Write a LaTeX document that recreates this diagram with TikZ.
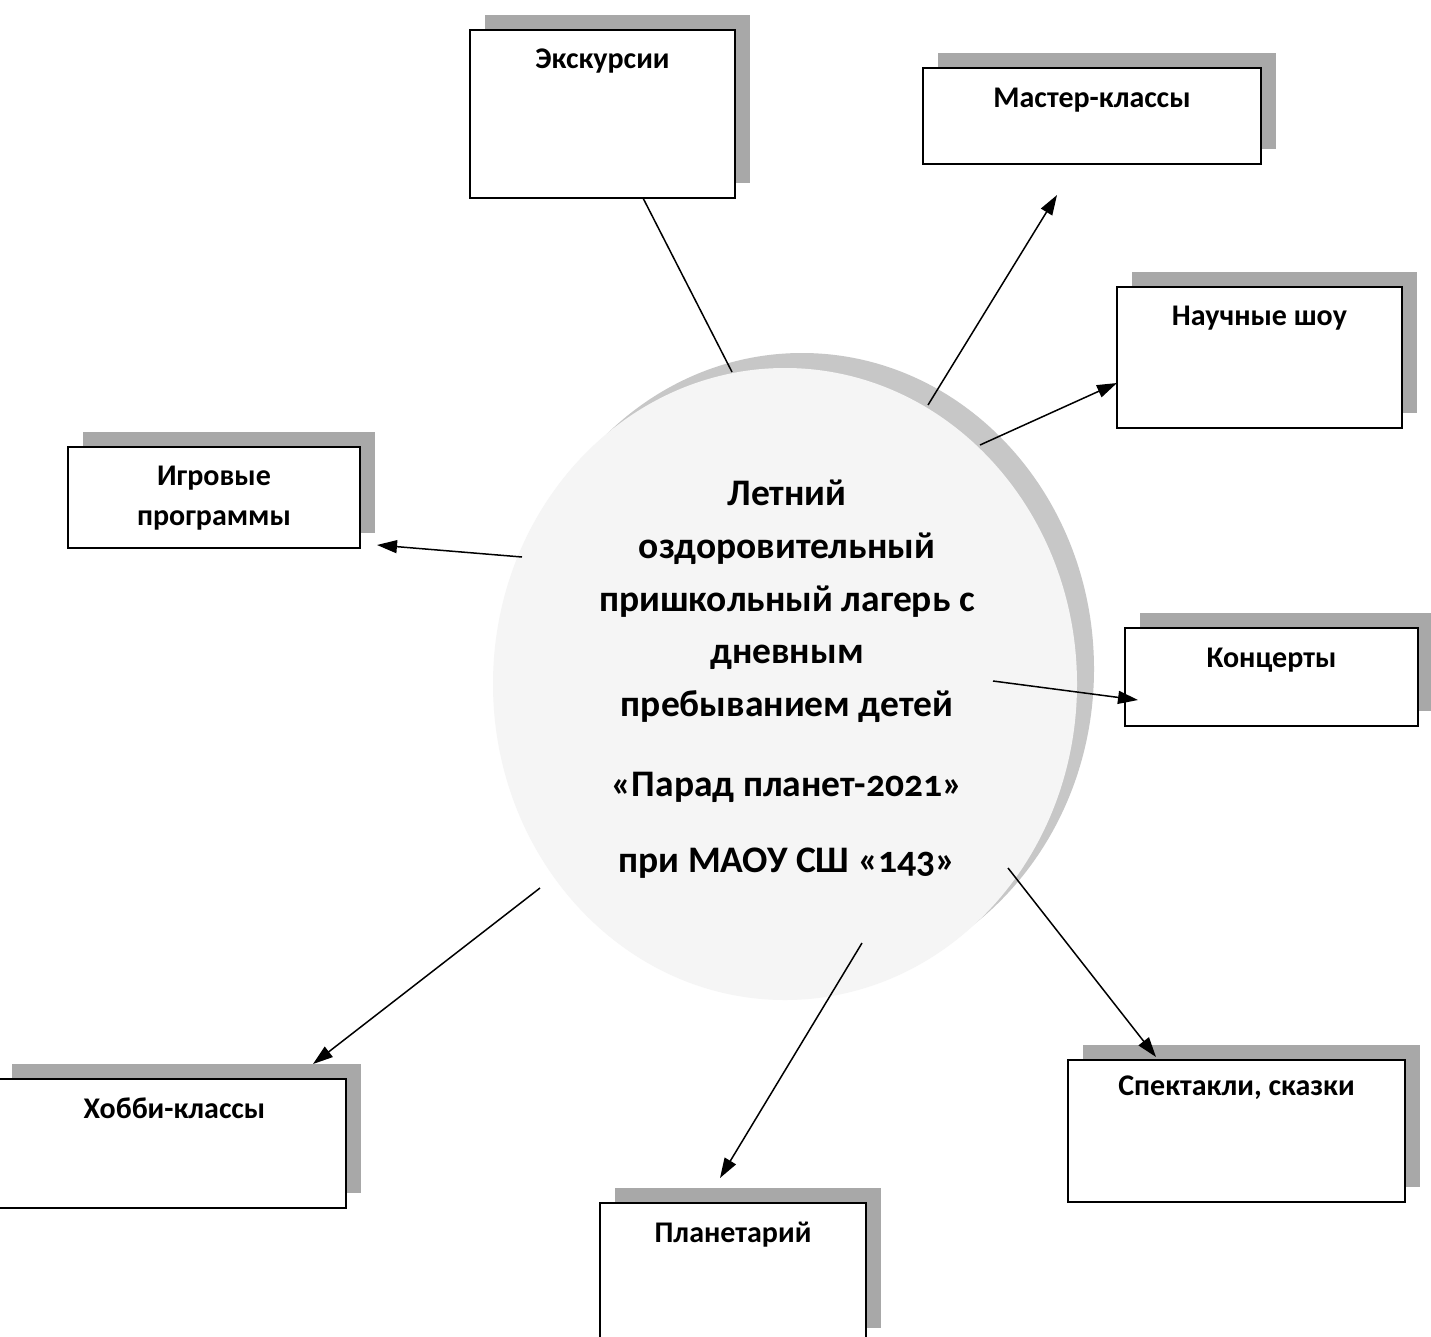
\documentclass[tikz,border=0pt]{standalone}
\usepackage{fontspec}
\setmainfont{Carlito}[Numbers=OldStyle]
\usetikzlibrary{shapes.geometric,shadows,arrows.meta,calc}
\definecolor{boxshadow}{gray}{0.66}
\definecolor{discshadow}{gray}{0.78}
\definecolor{discfill}{gray}{0.962}
\begin{document}
\begin{tikzpicture}[x=1pt,y=-1pt,
  box/.style={draw=black, line width=2.2pt, fill=white, inner sep=0pt,
    drop shadow={shadow xshift=15pt, shadow yshift=15pt, fill=boxshadow, opacity=1}},
  lbl/.style={font=\fontsize{30}{40}\selectfont\bfseries, anchor=base, inner sep=0pt, align=center},
  conn/.style={line width=1.5pt},
  arr/.style={conn, -{Triangle[length=20pt,width=13pt]}}]
\useasboundingbox (0,0) rectangle (1431,1336);
\fill[white] (0,0) rectangle (1431,1336);

% central disc with its shadow
\node[ellipse, minimum width=584pt, minimum height=632pt, fill=discfill, inner sep=0pt,
  drop shadow={shadow xshift=17pt, shadow yshift=15pt, fill=discshadow, opacity=1}] (disc) at (785,684) {};
\node[font=\fontsize{37.5}{52.75}\selectfont\bfseries, align=center, inner sep=0pt, anchor=base] (camp) at (787,872)
  {Летний\\оздоровительный\\пришкольный лагерь с\\дневным\\пребыванием детей\\[27pt]«Парад планет-2021»\\[23pt]при МАОУ СШ «143»};

% boxes
\node[box, minimum width=265pt, minimum height=168pt] (exc) at (602.5,114) {};
\node[box, minimum width=338pt, minimum height=96pt] (mas) at (1092,116) {};
\node[box, minimum width=285pt, minimum height=141pt] (nau) at (1259.5,357.5) {};
\node[box, minimum width=292pt, minimum height=101pt] (igr) at (214,497.5) {};
\node[box, minimum width=293pt, minimum height=98pt] (kon) at (1271.5,677) {};
\node[box, minimum width=337pt, minimum height=142pt] (spe) at (1236.5,1131) {};
\node[box, minimum width=349pt, minimum height=129pt] (hob) at (171.5,1143.5) {};
\node[box, minimum width=266pt, minimum height=140pt] (pla) at (733,1273) {};

% labels
\node[lbl] (excT) at ($(exc.north)+(0,40)$) {Экскурсии};
\node[lbl] (masT) at ($(mas.north)+(0,41)$) {Мастер-классы};
\node[lbl] (nauT) at ($(nau.north)+(0,40)$) {Научные шоу};
\node[lbl] (igrT) at ($(igr.north)+(0,80)$) {Игровые\\программы};
\node[lbl] (konT) at ($(kon.north)+(0,41)$) {Концерты};
\node[lbl] (speT) at ($(spe.north)+(0,37)$) {Спектакли, сказки};
\node[lbl] (hobT) at ($(hob.north)+(3,41)$) {Хобби-классы};
\node[lbl] (plaT) at ($(pla.north)+(0,41)$) {Планетарий};

% connector end points
\coordinate (excA) at (643,198);
\coordinate (excB) at (732,372);
\coordinate (masA) at (928,405);
\coordinate (masB) at (1057,195);
\coordinate (nauA) at (980,445);
\coordinate (nauB) at (1117,383);
\coordinate (igrA) at (522,557);
\coordinate (igrB) at (377,545);
\coordinate (konA) at (993,681);
\coordinate (konB) at (1138,700);
\coordinate (hobA) at (540,888);
\coordinate (hobB) at (313,1064);
\coordinate (plaA) at (862,943);
\coordinate (plaB) at (720,1178);
\coordinate (speA) at (1008,868);
\coordinate (speB) at (1156,1057);

% connectors
\draw[conn] (excA) -- (excB);
\draw[arr] (masA) -- (masB);
\draw[arr] (nauA) -- (nauB);
\draw[arr] (igrA) -- (igrB);
\draw[arr] (konA) -- (konB);
\draw[arr] (hobA) -- (hobB);
\draw[arr] (plaA) -- (plaB);
\draw[arr] (speA) -- (speB);
\end{tikzpicture}
\end{document}
